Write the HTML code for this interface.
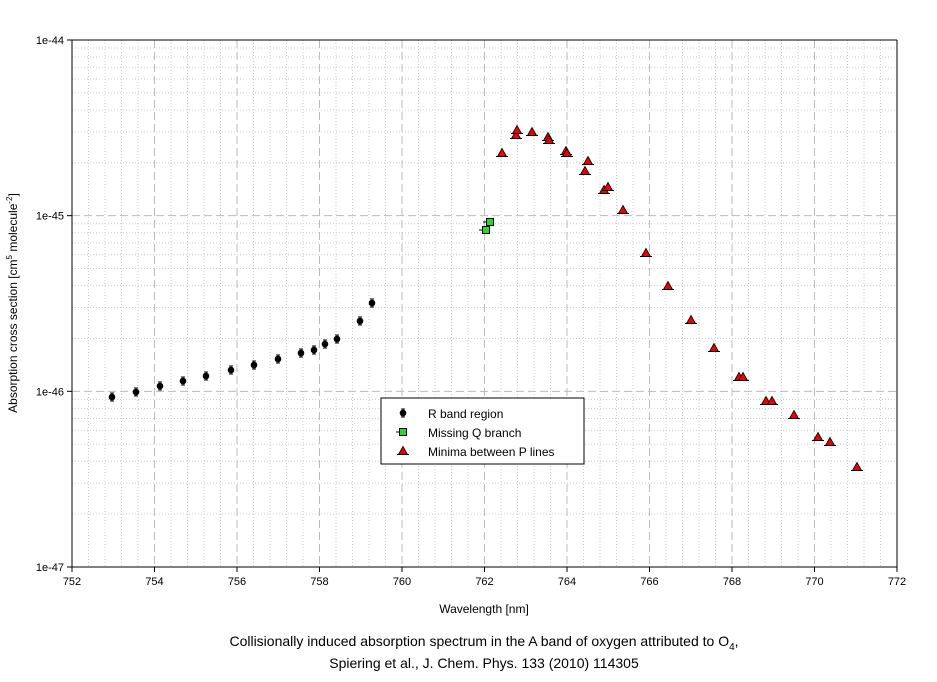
<!DOCTYPE html><html><head><style>body{margin:0;background:#fff}svg{font-family:"Liberation Sans",Arial,sans-serif}</style></head><body>
<svg width="937" height="677" xmlns="http://www.w3.org/2000/svg">
<defs>
<g id="c"><circle r="3.3" fill="#000"/><line x1="0" y1="-4" x2="0" y2="4" stroke="#000"/><line x1="-2" y1="-4" x2="2" y2="-4" stroke="#000"/><line x1="-2" y1="4" x2="2" y2="4" stroke="#000"/></g>
<g id="s"><rect x="-3.5" y="-3.5" width="7" height="7" fill="#2d2" stroke="#000"/><line x1="-7" y1="0" x2="-3.5" y2="0" stroke="#000"/></g>
<g id="t"><polygon points="0,-4.5 4.5,3.5 -4.5,3.5" fill="#e00" stroke="#000" stroke-width="0.8"/><line x1="-6" y1="3.5" x2="6" y2="3.5" stroke="#000"/></g>
</defs>
<g id="grid"></g>
<g id="ax"></g>
<g id="pts"></g>
<rect x="381" y="398" width="203" height="66" fill="#fff" stroke="#000"/>
<use href="#c" x="403" y="413"/><use href="#s" x="403" y="432"/><use href="#t" x="403" y="451"/>
<text x="428" y="418" font-size="12">R band region</text>
<text x="428" y="437" font-size="12">Missing Q branch</text>
<text x="428" y="456" font-size="12">Minima between P lines</text>
<text x="484" y="613" font-size="12" text-anchor="middle">Wavelength [nm]</text>
<text transform="translate(17,303) rotate(-90)" font-size="12" text-anchor="middle">Absorption cross section [cm<tspan font-size="8" dy="-5">5</tspan><tspan dy="5"> molecule</tspan><tspan font-size="8" dy="-5">-2</tspan><tspan dy="5">]</tspan></text>
<text x="484" y="646" font-size="14" text-anchor="middle">Collisionally induced absorption spectrum in the A band of oxygen attributed to O<tspan font-size="10" dy="4">4</tspan><tspan dy="-4">,</tspan></text>
<text x="484" y="668" font-size="14" text-anchor="middle">Spiering et al., J. Chem. Phys. 133 (2010) 114305</text>
</svg>
<script>
const L=72,R=897,T=40,B=567,ns="http://www.w3.org/2000/svg";
function el(p,t,a,txt){const e=document.createElementNS(ns,t);for(const k in a)e.setAttribute(k,a[k]);if(txt)e.textContent=txt;document.getElementById(p).appendChild(e);}
const dec=(B-T)/3;
for(let i=0;i<=50;i++){const x=L+i*(R-L)/50;if(i%5==0)continue;el("grid","line",{x1:x,x2:x,y1:T,y2:B,stroke:"#ccc","stroke-dasharray":"1,2"});}
for(let d=0;d<3;d++)for(let m=2;m<10;m++){const y=B-d*dec-Math.log10(m)*dec;el("grid","line",{x1:L,x2:R,y1:y,y2:y,stroke:"#ccc","stroke-dasharray":"1,2"});}
for(let i=1;i<10;i++){const x=L+i*(R-L)/10;el("grid","line",{x1:x,x2:x,y1:T,y2:B,stroke:"#bbb","stroke-dasharray":"8,4"});}
for(let d=1;d<3;d++){const y=B-d*dec;el("grid","line",{x1:L,x2:R,y1:y,y2:y,stroke:"#bbb","stroke-dasharray":"8,4"});}
el("ax","line",{x1:L,x2:R,y1:T,y2:T,stroke:"#000"});el("ax","line",{x1:L,x2:L,y1:T,y2:B,stroke:"#000"});
el("ax","line",{x1:L,x2:R,y1:B,y2:B,stroke:"#000"});el("ax","line",{x1:R,x2:R,y1:T,y2:B,stroke:"#000"});
for(let i=0;i<=10;i++){const x=L+i*(R-L)/10;el("ax","line",{x1:x,x2:x,y1:B,y2:B+5,stroke:"#000"});el("ax","text",{x:x,y:B+18,"font-size":11,"text-anchor":"middle"},String(752+2*i));}
["1e-47","1e-46","1e-45","1e-44"].forEach((s,d)=>{const y=B-d*dec;el("ax","line",{x1:L-5,x2:L,y1:y,y2:y,stroke:"#000"});el("ax","text",{x:L-8,y:y+4,"font-size":11,"text-anchor":"end"},s);});
const C=[[112,397],[136,392],[160,386],[183,381],[206,376],[231,370],[254,365],[278,359],[301,353],[314,350],[325,344],[337,339],[360,321],[372,303]];
const S=[[486,230],[490,222]];
const Tr=[[502,153],[516,135],[517,130],[532,132],[548,137],[549,140],[566,151],[567,153],[585,171],[588,161],[604,190],[608,187],[623,210],[646,253],[668,286],[691,320],[714,348],[739,377],[743,377],[766,401],[772,401],[794,415],[818,437],[830,442],[857,467]];
C.forEach(p=>el("pts","use",{href:"#c",x:p[0],y:p[1]}));S.forEach(p=>el("pts","use",{href:"#s",x:p[0],y:p[1]}));Tr.forEach(p=>el("pts","use",{href:"#t",x:p[0],y:p[1]}));
</script>
</body></html>
